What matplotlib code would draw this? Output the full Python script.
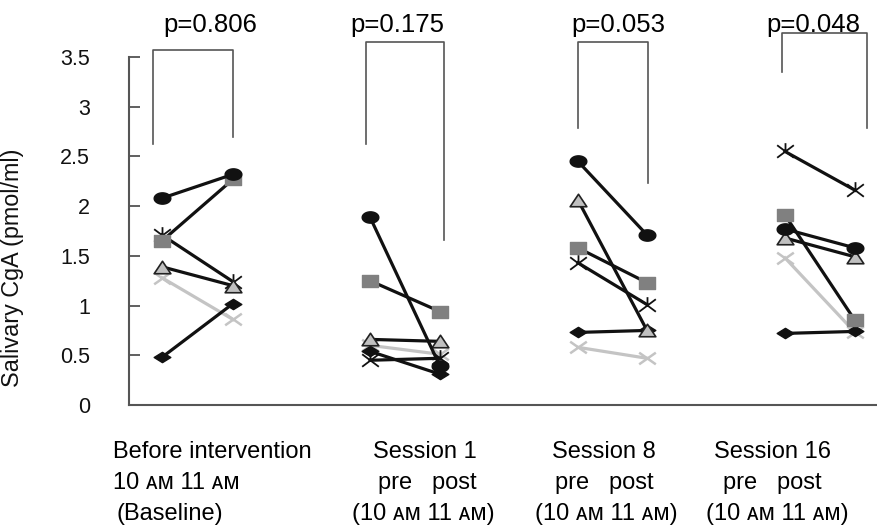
import matplotlib.pyplot as plt
import numpy as np
from matplotlib.path import Path

plt.rcParams['font.family'] = ['Liberation Sans', 'DejaVu Sans']

# sessions: baseline, session 1, session 8, session 16 -> (pre, post) for each
sessions = ["Baseline", "Session 1", "Session 8", "Session 16"]
circle   = [(2.08, 2.32), (1.89, 0.39), (2.45, 1.71), (1.77, 1.58)]
square   = [(1.65, 2.27), (1.25, 0.94), (1.58, 1.23), (1.91, 0.85)]
star     = [(1.71, 1.24), (0.45, 0.47), (1.43, 1.01), (2.55, 2.16)]
triangle = [(1.39, 1.20), (0.66, 0.64), (2.06, 0.75), (1.68, 1.49)]
grey_x   = [(1.28, 0.86), (0.60, 0.51), (0.58, 0.47), (1.48, 0.73)]
diamond  = [(0.48, 1.02), (0.54, 0.31), (0.73, 0.75), (0.72, 0.74)]
p_values = ["p=0.806", "p=0.175", "p=0.053", "p=0.048"]
yticks = [0, 0.5, 1, 1.5, 2, 2.5, 3, 3.5]
ytick_labels = ["0", "0.5", "1", "1.5", "2", "2.5", "3", "3.5"]

# x positions (pre, post) of each session, in pixel-like units
xpos = [(162, 233), (370, 440), (578, 647), (785, 855)]

# custom markers
t = np.linspace(0, 2 * np.pi, 40)
ellipse = Path(np.c_[np.cos(t), 0.68 * np.sin(t)], closed=True)
rect = Path([(-1, -0.68), (1, -0.68), (1, 0.68), (-1, 0.68), (-1, -0.68)], closed=True)
diam = Path([(-1, 0), (0, 0.62), (1, 0), (0, -0.62), (-1, 0)], closed=True)
tri = Path([(-1, -0.75), (1, -0.75), (0, 0.75), (-1, -0.75)], closed=True)
asterisk = Path([(-1, -0.75), (1, 0.75), (-1, 0.75), (1, -0.75), (0, 0), (0, 1.0)],
                [Path.MOVETO, Path.LINETO, Path.MOVETO, Path.LINETO, Path.MOVETO, Path.LINETO])
xmark = Path([(-1, -0.7), (1, 0.7), (-1, 0.7), (1, -0.7)],
             [Path.MOVETO, Path.LINETO, Path.MOVETO, Path.LINETO])

series = [
    (grey_x,   dict(color='#c4c4c4', marker=xmark, ms=12, mew=1.8)),
    (diamond,  dict(color='#111111', marker=diam, ms=12, mfc='#111111', mec='#111111')),
    (star,     dict(color='#111111', marker=asterisk, ms=12, mew=1.3)),
    (triangle, dict(color='#111111', marker=tri, ms=12, mfc='#c0c0c0', mec='#222222', mew=1.2)),
    (square,   dict(color='#111111', marker=rect, ms=12, mfc='#808080', mec='#808080')),
    (circle,   dict(color='#111111', marker=ellipse, ms=12, mfc='#111111', mec='#111111')),
]

fig = plt.figure(figsize=(8.77, 5.27), dpi=100)
ax = fig.add_axes([129 / 877, 1 - 405 / 527, 1 - 129 / 877, (405 - 57) / 527])

for vals, style in series:
    for (x0, x1), (y0, y1) in zip(xpos, vals):
        ax.plot([x0, x1], [y0, y1], lw=2.3, clip_on=False, **style)

# brackets: left x, right x, top y, left bottom, right bottom
brackets = [(153, 233, 3.57, 2.62, 2.70), (366, 444, 3.65, 2.62, 1.66),
            (578, 648, 3.65, 2.79, 2.23), (782, 867, 3.74, 3.35, 2.79)]
p_x = [210, 397, 618, 813]
for (xl, xr, yt, yl, yr), px, p in zip(brackets, p_x, p_values):
    ax.plot([xl, xl, xr, xr], [yl, yt, yt, yr], color='#555555', lw=1.2, clip_on=False)
    ax.text(px, 3.75, p, ha='center', va='baseline', fontsize=18.5)

ax.set_xlim(129, 877)
ax.set_ylim(0, 3.5)
ax.set_xticks([])
ax.set_yticks(yticks)
ax.set_yticklabels(ytick_labels, fontsize=15.5)
ax.tick_params(axis='y', direction='in', length=8, width=1.2, pad=28, colors='#444444',
               labelcolor='#111111')
for s in ['top', 'right']:
    ax.spines[s].set_visible(False)
for s in ['left', 'bottom']:
    ax.spines[s].set_color('#555555')
    ax.spines[s].set_linewidth(1.5)
ax.set_ylabel("Salivary CgA (pmol/ml)", fontsize=16.8, color='#111111')
ax.yaxis.set_label_coords(-105 / 748, (405 - 268) / 348)

# category labels below the axis
am = "\u1d00\u1d0d"
fs = 17
rows = [458, 489, 520]  # baselines, in pixels from the top
fig.text(113 / 877, 1 - rows[0] / 527, "Before intervention", ha='left', va='baseline', fontsize=fs)
fig.text(113 / 877, 1 - rows[1] / 527, f"10 {am} 11 {am}", ha='left', va='baseline', fontsize=fs)
fig.text(117 / 877, 1 - rows[2] / 527, "(Baseline)", ha='left', va='baseline', fontsize=fs)
centers = [(425, 427, 423), (604, 604, 606), (772, 772, 777)]
for (c1, c2, c3), name in zip(centers, sessions[1:]):
    fig.text(c1 / 877, 1 - rows[0] / 527, name, ha='center', va='baseline', fontsize=fs)
    fig.text(c2 / 877, 1 - rows[1] / 527, "pre   post", ha='center', va='baseline', fontsize=fs)
    fig.text(c3 / 877, 1 - rows[2] / 527, f"(10 {am} 11 {am})", ha='center', va='baseline', fontsize=fs)

fig.savefig("out.png", dpi=100)
